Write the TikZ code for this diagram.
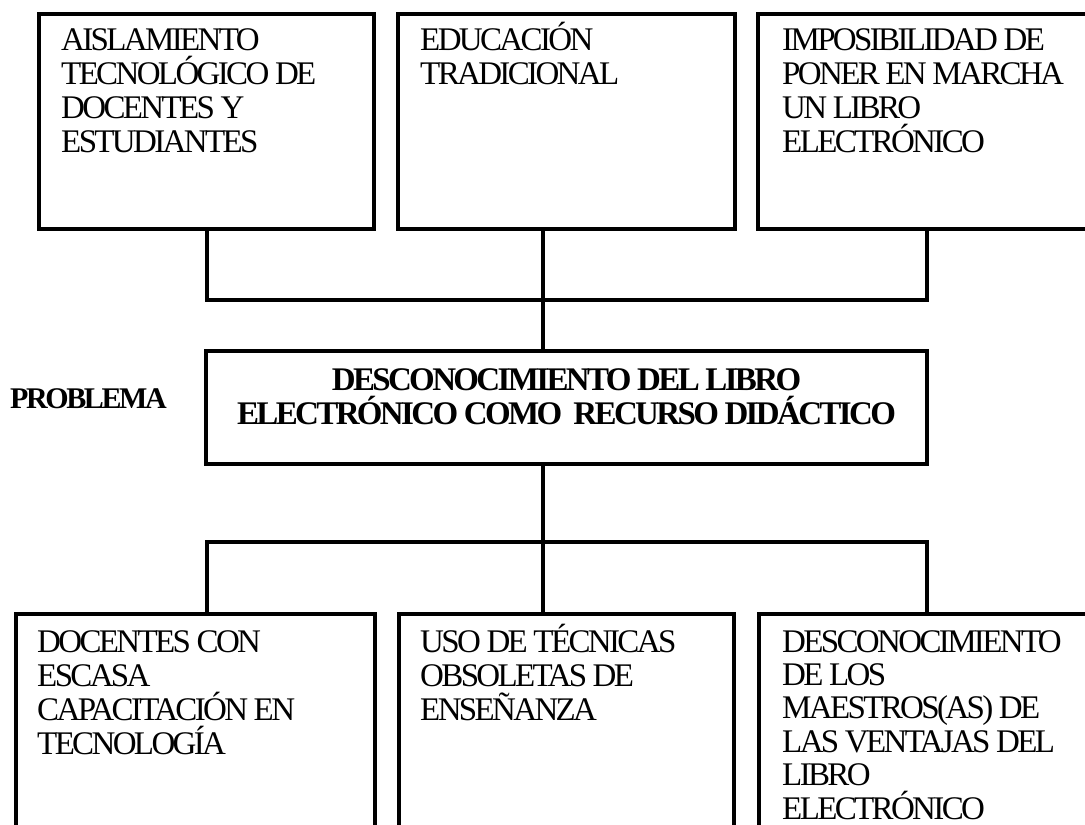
\documentclass[tikz,border=0pt]{standalone}
\usepackage{fontspec}
\setmainfont{Liberation Serif}[LetterSpace=-8]
\newcommand\boxtext[1]{\parbox[t]{330pt}{\raggedright #1}}
\begin{document}
\begin{tikzpicture}[x=1pt,y=-1pt,
  box/.style={draw, line width=4pt, inner sep=0pt, outer sep=0pt, anchor=north west},
  conn/.style={line width=3.6pt},
  lbl/.style={anchor=base west, inner sep=0pt, font=\fontsize{33}{34}\selectfont},
  boldlbl/.style={inner sep=0pt, font=\bfseries\fontsize{33}{34}\selectfont}
]
\useasboundingbox (0,0) rectangle (1085,825);
\clip (0,0) rectangle (1085,825);

% boxes
\node[box, minimum width=335pt, minimum height=215pt] (t1) at (39,14) {};
\node[box, minimum width=337pt, minimum height=215pt] (t2) at (398,14) {};
\node[box, minimum width=337pt, minimum height=215pt] (t3) at (758,14) {};
\node[box, minimum width=721pt, minimum height=113pt] (m) at (206,351) {};
\node[box, minimum width=359pt, minimum height=260pt] (b1) at (16,614) {};
\node[box, minimum width=335pt, minimum height=260pt] (b2) at (398.5,614) {};
\node[box, minimum width=337pt, minimum height=260pt] (b3) at (758.5,614) {};

% helper coordinates
\coordinate (colA) at (207,0);
\coordinate (spine) at (543,0);
\coordinate (colC) at (927,0);
\coordinate (busT) at (0,300);
\coordinate (busB) at (0,542);

% connectors
\draw[conn] (t1.south -| colA) -- (colA |- busT) -- (colC |- busT) -- (t3.south -| colC);
\draw[conn] (t2.south -| spine) -- (m.north -| spine);
\draw[conn] (m.south -| spine) -- (b2.north -| spine);
\draw[conn] (b1.north -| colA) -- (colA |- busB) -- (colC |- busB) -- (b3.north -| colC);

% texts
\node[lbl] (t1x) at (61,50) {\boxtext{AISLAMIENTO\\TECNOLÓGICO DE\\DOCENTES Y\\ESTUDIANTES}};
\node[lbl] (t2x) at (420,50) {\boxtext{EDUCACIÓN\\TRADICIONAL}};
\node[lbl] (t3x) at (782,50) {\boxtext{IMPOSIBILIDAD DE\\PONER EN MARCHA\\UN LIBRO\\ELECTRÓNICO}};
\node[lbl] (b1x) at (37,652) {\boxtext{DOCENTES CON\\ESCASA\\CAPACITACIÓN EN\\TECNOLOGÍA}};
\node[lbl] (b2x) at (420,652) {\boxtext{USO DE TÉCNICAS\\OBSOLETAS DE\\ENSEÑANZA}};
\node[lbl, font=\fontsize{33}{33.4}\selectfont] (b3x) at (782,652) {\boxtext{DESCONOCIMIENTO\\DE LOS\\MAESTROS(AS) DE\\LAS VENTAJAS DEL\\LIBRO\\ELECTRÓNICO}};
\node[boldlbl, anchor=base] (mx) at (566.5,390) {\parbox[t]{715pt}{\centering DESCONOCIMIENTO DEL LIBRO\\ELECTRÓNICO COMO\ \ RECURSO DIDÁCTICO}};
\node[boldlbl, anchor=base west, font=\bfseries\fontsize{30}{34}\selectfont] (prob) at (10,408) {PROBLEMA};
\end{tikzpicture}
\end{document}
